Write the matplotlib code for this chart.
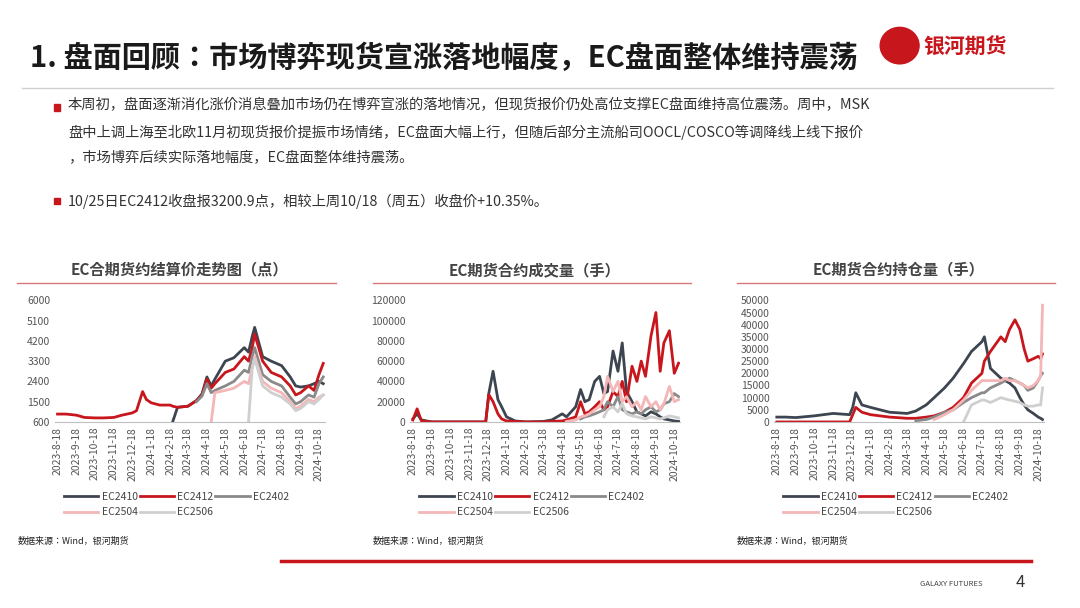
import numpy as np
import pandas as pd
import matplotlib
matplotlib.use("Agg")
import matplotlib.pyplot as plt
from matplotlib.patches import Rectangle, Ellipse
from matplotlib import font_manager

names = {f.name for f in font_manager.fontManager.ttflist}
cjk = next((n for n in ["Noto Sans CJK SC", "Noto Sans CJK JP", "Noto Sans CJK TC", "Noto Sans CJK KR"]
            if n in names), "DejaVu Sans")
plt.rcParams["font.family"] = [cjk]
nan = np.nan

TITLE = "1. 盘面回顾：市场博弈现货宣涨落地幅度，EC盘面整体维持震荡"
BULLETS = [
    "本周初，盘面逐渐消化涨价消息叠加市场仍在博弈宣涨的落地情况，但现货报价仍处高位支撑EC盘面维持高位震荡。周中，MSK\n盘中上调上海至北欧11月初现货报价提振市场情绪，EC盘面大幅上行，但随后部分主流船司OOCL/COSCO等调降线上线下报价\n，市场博弈后续实际落地幅度，EC盘面整体维持震荡。",
    "10/25日EC2412收盘报3200.9点，相较上周10/18（周五）收盘价+10.35%。",
]
SERIES = ["EC2410", "EC2412", "EC2402", "EC2504", "EC2506"]
COLORS = ["#3d4550", "#c8161d", "#8a8a8a", "#f4b6b6", "#cfcfcf"]

# settlement price (points)
price_dates = ["2023-08-18", "2023-09-01", "2023-09-18", "2023-10-01", "2023-10-18", "2023-11-01",
               "2023-11-18", "2023-12-01", "2023-12-18", "2023-12-25", "2024-01-04", "2024-01-10",
               "2024-01-18", "2024-02-01", "2024-02-18", "2024-02-22", "2024-03-01", "2024-03-18",
               "2024-04-01", "2024-04-10", "2024-04-18", "2024-04-25", "2024-05-01", "2024-05-18",
               "2024-06-01", "2024-06-18", "2024-06-25", "2024-07-01", "2024-07-05", "2024-07-18",
               "2024-08-01", "2024-08-18", "2024-09-01", "2024-09-10", "2024-09-18", "2024-10-01",
               "2024-10-10", "2024-10-18", "2024-10-25"]
price_2410 = [nan]*15 + [600, 1250, 1300, 1550, 1850, 2600, 2200, 2500, 3300, 3450, 3900, 3700, 4400,
                         4800, 3500, 3300, 3100, 2600, 2200, 2150, 2200, 2300, 2400, 2300]
price_2412 = [950, 950, 900, 800, 780, 780, 800, 900, 1000, 1100, 1950, 1600, 1450, 1350, 1350, 1300,
              1250, 1300, 1550, 1800, 2500, 2100, 2300, 2800, 2950, 3500, 3300, 3900, 4500, 3300, 2800,
              2600, 2200, 1800, 1900, 2200, 2000, 2700, 3200]
price_2402 = [nan]*18 + [1500, 1750, 2300, 1900, 2000, 2200, 2400, 2900, 2800, 3500, 3900, 2700, 2400,
                         2200, 1700, 1400, 1500, 1800, 1700, 2300, 2600]
price_2504 = [nan]*21 + [600, 1900, 2000, 2100, 2400, 2300, 3000, 3500, 2400, 2100, 1900, 1500, 1200,
                         1300, 1600, 1500, 1700, 1800]
price_2506 = [nan]*26 + [600, 3000, 3400, 2200, 1900, 1700, 1400, 1100, 1200, 1500, 1400, 1600, 1800]

# trading volume (lots)
vol_dates = ["2023-08-18", "2023-08-25", "2023-09-01", "2023-09-18", "2023-10-18", "2023-11-18",
             "2023-12-15", "2023-12-20", "2023-12-27", "2024-01-04", "2024-01-10", "2024-01-18",
             "2024-02-01", "2024-02-18", "2024-03-18", "2024-04-01", "2024-04-18", "2024-04-25",
             "2024-05-10", "2024-05-18", "2024-05-25", "2024-06-01", "2024-06-10", "2024-06-18",
             "2024-06-25", "2024-07-01", "2024-07-10", "2024-07-18", "2024-07-25", "2024-08-01",
             "2024-08-10", "2024-08-18", "2024-08-25", "2024-09-01", "2024-09-10", "2024-09-18",
             "2024-09-25", "2024-10-01", "2024-10-10", "2024-10-18", "2024-10-25"]
vol_2410 = [3000, 8000, 2000, 0, 0, 0, 0, 28000, 50000, 22000, 15000, 5000, 1000, 0, 500, 2000, 8000,
            5000, 15000, 32000, 20000, 22000, 40000, 45000, 28000, 30000, 70000, 50000, 78000, 30000,
            20000, 10000, 8000, 6000, 10000, 8000, 5000, 3000, 2000, 1000, 500]
vol_2412 = [2000, 13000, 1000, 0, 0, 0, 0, 27000, 20000, 8000, 3000, 1000, 500, 0, 0, 500, 1000, 2000,
            5000, 20000, 8000, 10000, 15000, 20000, 12000, 15000, 30000, 25000, 40000, 20000, 55000,
            40000, 60000, 45000, 85000, 108000, 50000, 78000, 90000, 48000, 58000]
vol_2402 = [nan]*19 + [3000, 5000, 6000, 8000, 10000, 12000, 20000, 15000, 25000, 12000, 10000, 8000,
                       10000, 8000, 12000, 15000, 10000, 12000, 18000, 20000, 28000, 25000]
vol_2504 = [nan]*17 + [500, 2000, 5000, 6000, 8000, 12000, 15000, 25000, 45000, 30000, 40000, 20000,
                       25000, 15000, 20000, 12000, 25000, 15000, 20000, 12000, 18000, 35000, 20000, 22000]
vol_2506 = [nan]*24 + [5000, 12000, 15000, 10000, 18000, 8000, 6000, 5000, 4000, 3000, 5000, 4000,
                       3000, 4000, 6000, 5000, 4000]

# open interest (lots)
oi_dates = ["2023-08-18", "2023-09-01", "2023-09-18", "2023-10-18", "2023-11-18", "2023-12-15",
            "2023-12-20", "2023-12-25", "2024-01-04", "2024-01-18", "2024-02-18", "2024-03-18",
            "2024-04-01", "2024-04-18", "2024-05-01", "2024-05-18", "2024-06-01", "2024-06-18",
            "2024-07-01", "2024-07-18", "2024-07-22", "2024-08-01", "2024-08-18", "2024-08-25",
            "2024-09-01", "2024-09-10", "2024-09-18", "2024-09-25", "2024-10-01", "2024-10-10",
            "2024-10-18", "2024-10-22", "2024-10-25"]
oi_2410 = [2000, 2000, 1800, 2500, 3500, 3000, 6000, 12000, 7000, 6000, 4000, 3500, 4500, 7000, 10000,
           14000, 18000, 24000, 29000, 33000, 35000, 22000, 18000, 17000, 16000, 14000, 10000, 7000,
           5000, 3500, 2000, 1500, 1000]
oi_2412 = [0, 0, 0, 0, 0, 0, 3000, 6000, 4000, 3000, 2000, 1500, 1500, 2000, 2500, 4000, 6000, 10000,
           16000, 20000, 25000, 29000, 35000, 33000, 38000, 42000, 38000, 30000, 25000, 26000, 27000,
           26000, 28000]
oi_2402 = [nan]*12 + [500, 1000, 2000, 4000, 5000, 8000, 10000, 12000, 12000, 14000, 16000, 17000,
                      18000, 17000, 16000, 15000, 13000, 14000, 17000, 19000, 20000]
oi_2504 = [nan]*14 + [1000, 3000, 5000, 9000, 13000, 17000, 17000, 17000, 17000, 18000, 17000, 17000,
                      16000, 15000, 14000, 15000, 17000, 19000, 48000]
oi_2506 = [nan]*17 + [0, 7000, 9000, 9000, 8000, 10000, 9500, 9000, 8500, 8000, 7000, 6500, 6500,
                      7000, 7000, 14000]

tick_dates = pd.date_range("2023-08-01", "2024-10-18", freq="MS") + pd.Timedelta(days=17)
tick_labels = [f"{d.year}-{d.month}-{d.day}" for d in tick_dates]

fig = plt.figure(figsize=(10.8, 6.08), dpi=100)
fig.patch.set_facecolor("white")

# header
fig.text(0.028, 0.905, TITLE, fontsize=21, fontweight="bold", color="#1a1a1a", va="center")
fig.add_artist(plt.Line2D([0.02, 0.975], [0.855, 0.855], color="#d0d0d0", lw=1))
fig.add_artist(Ellipse((0.833, 0.925), 0.036, 0.06, transform=fig.transFigure, color="#c8161d"))
fig.text(0.855, 0.922, "银河期货", fontsize=15, fontweight="bold", color="#c8161d", va="center")

fig.add_artist(Rectangle((0.05, 0.818), 0.006, 0.011, color="#c8161d", transform=fig.transFigure))
fig.text(0.063, 0.838, BULLETS[0], fontsize=10.3, color="#333333", va="top", linespacing=2.0)
fig.add_artist(Rectangle((0.05, 0.664), 0.006, 0.011, color="#c8161d", transform=fig.transFigure))
fig.text(0.063, 0.682, BULLETS[1], fontsize=10.3, color="#333333", va="top")


def draw_chart(left, title, dates, data, ymin, ymax, ystep):
    ax = fig.add_axes([left, 0.306, 0.25, 0.2])
    x = pd.to_datetime(dates)
    handles = []
    for name, vals, c in zip(SERIES, data, COLORS):
        h, = ax.plot(x, vals, color=c, lw=2.0, label=name)
        handles.append(h)
    ax.set_xlim(pd.Timestamp("2023-08-14"), pd.Timestamp("2024-10-28"))
    ax.set_ylim(ymin, ymax)
    ax.set_yticks(np.arange(ymin, ymax + 1, ystep))
    ax.set_xticks(tick_dates)
    ax.set_xticklabels(tick_labels, rotation=90)
    ax.tick_params(labelsize=7.5, colors="#555555", length=0)
    for s in ["top", "right", "left"]:
        ax.spines[s].set_visible(False)
    ax.spines["bottom"].set_color("#bfbfbf")
    pos = ax.get_position()
    fig.text(pos.x0 + pos.width / 2 - 0.01, 0.556, title, fontsize=11, fontweight="bold",
             color="#444444", ha="center", va="center")
    fig.add_artist(plt.Line2D([pos.x0 - 0.035, pos.x1 + 0.01], [0.534, 0.534], color="#d9777a", lw=1))
    order = [0, 3, 1, 4, 2]
    ax.legend([handles[i] for i in order], [SERIES[i] for i in order],
              loc="upper center", bbox_to_anchor=(0.45, -0.5), ncol=3, frameon=False, fontsize=7.5,
              handlelength=3.3, handletextpad=0.3, columnspacing=0.2, labelcolor="#444444")
    fig.text(pos.x0 - 0.035, 0.105, "数据来源：Wind，银河期货", fontsize=6.5, color="#222222")
    return ax


draw_chart(0.051, "EC合期货约结算价走势图（点）", price_dates,
           [price_2410, price_2412, price_2402, price_2504, price_2506], 600, 6000, 900)
draw_chart(0.38, "EC期货合约成交量（手）", vol_dates,
           [vol_2410, vol_2412, vol_2402, vol_2504, vol_2506], 0, 120000, 20000)
draw_chart(0.717, "EC期货合约持仓量（手）", oi_dates,
           [oi_2410, oi_2412, oi_2402, oi_2504, oi_2506], 0, 50000, 5000)

# footer
fig.add_artist(plt.Line2D([0.26, 0.955], [0.078, 0.078], color="#c8161d", lw=2.5))
fig.text(0.852, 0.04, "GALAXY FUTURES", fontsize=5.5, color="#444444", va="center")
fig.text(0.94, 0.042, "4", fontsize=12, color="#333333", va="center")

fig.savefig("out.png", dpi=100, facecolor="white")
